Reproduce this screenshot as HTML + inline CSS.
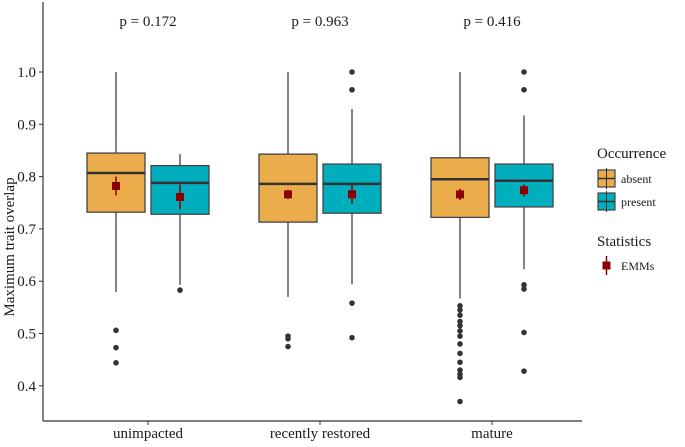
<!DOCTYPE html>
<html><head><meta charset="utf-8"><style>
body{margin:0;background:#fff;}
svg text{font-family:"Liberation Serif",serif;fill:#1a1a1a;}
</style></head><body>
<svg id="chart" width="685" height="442" xmlns="http://www.w3.org/2000/svg"></svg>
<script>
const categories=["unimpacted","recently restored","mature"];
const groups=["absent","present"];
const pvalues=["p = 0.172","p = 0.963","p = 0.416"];
const yTicks=[0.4,0.5,0.6,0.7,0.8,0.9,1.0];
const yTickLabels=["0.4","0.5","0.6","0.7","0.8","0.9","1.0"];
// [whiskerLow,Q1,median,Q3,whiskerHigh] per category per group
const absentStats=[[0.579,0.732,0.807,0.845,1.0],[0.57,0.713,0.786,0.843,1.0],[0.567,0.722,0.795,0.836,1.0]];
const presentStats=[[0.593,0.728,0.788,0.821,0.843],[0.594,0.73,0.786,0.824,0.929],[0.623,0.742,0.792,0.824,0.917]];
const absentOutliers=[[0.506,0.473,0.444],[0.495,0.49,0.475],[0.553,0.545,0.535,0.523,0.515,0.505,0.495,0.48,0.462,0.445,0.43,0.422,0.416,0.37]];
const presentOutliers=[[0.583],[1.0,0.966,0.558,0.492],[1.0,0.966,0.593,0.585,0.502,0.428]];
const absentEmm=[[0.782,0.764,0.80],[0.766,0.757,0.775],[0.766,0.755,0.777]];
const presentEmm=[[0.761,0.737,0.785],[0.766,0.748,0.785],[0.774,0.762,0.785]];
const colors=["#EBAC4B","#00AEBD"];

const svg=document.getElementById('chart');
const NS="http://www.w3.org/2000/svg";
function el(t,a,p){const e=document.createElementNS(NS,t);for(const k in a)e.setAttribute(k,a[k]);(p||svg).appendChild(e);return e;}
const yScale=v=>72+(1.0-v)*523;
const xScale=i=>148+i*172;
const dodge=32,bw=58;

// axes
let ax=el('line',{x1:43,y1:2,x2:43,y2:421,stroke:'#333','stroke-width':1.2});


ax=el('line',{x1:43,y1:421,x2:582,y2:421,stroke:'#333','stroke-width':1.2});


yTicks.forEach((v,i)=>{
  const t=el('line',{x1:39,x2:43,y1:yScale(v),y2:yScale(v),stroke:'#333'});
  
  
  const l=el('text',{x:36,y:yScale(v)+5,'text-anchor':'end','font-size':15});
  l.textContent=yTickLabels[i];
  
  
});
const yt=el('text',{x:14,y:247,'text-anchor':'middle','font-size':15,transform:'rotate(-90 14 247)'});
yt.textContent="Maximum trait overlap";



categories.forEach((c,i)=>{
  const cx=xScale(i);
  const t=el('line',{x1:cx,x2:cx,y1:421,y2:425,stroke:'#333'});
  
  
  const l=el('text',{x:cx,y:438,'text-anchor':'middle','font-size':15});
  l.textContent=c;
  
  
  const p=el('text',{x:cx,y:26,'text-anchor':'middle','font-size':15});
  p.textContent=pvalues[i];
  
  
  [[absentStats,absentOutliers,absentEmm],[presentStats,presentOutliers,presentEmm]].forEach((g,gi)=>{
    const s=g[0][i],x=cx+(gi?dodge:-dodge);
    const w=el('line',{x1:x,x2:x,y1:yScale(s[4]),y2:yScale(s[0]),stroke:'#333','stroke-width':1.2});
    
    
    const b=el('rect',{x:x-bw/2,y:yScale(s[3]),width:bw,height:yScale(s[1])-yScale(s[3]),fill:colors[gi],stroke:'#444','stroke-width':1.3});
    
    
    const m=el('line',{x1:x-bw/2,x2:x+bw/2,y1:yScale(s[2]),y2:yScale(s[2]),stroke:'#333','stroke-width':2.5});
    
    
    g[1][i].forEach(o=>{
      const d=el('circle',{cx:x,cy:yScale(o),r:2.8,fill:'#333'});
      
      
    });
    const e=g[2][i];
    const eb=el('line',{x1:x,x2:x,y1:yScale(e[2]),y2:yScale(e[1]),stroke:'#8B0000','stroke-width':1.5});
    
    
    const em=el('rect',{x:x-4,y:yScale(e[0])-4,width:8,height:8,fill:'#8B0000'});
    
    
  });
});

// legend
function txt(x,y,s,size,name){const t=el('text',{x:x,y:y,'font-size':size});t.textContent=s;return t;}
txt(597,158,"Occurrence",15,'legend-title-occurrence');
groups.forEach((g,i)=>{
  const y=168+i*23;
  const k=el('rect',{x:598,y:y+2,width:17,height:17,fill:colors[i],stroke:'#444','stroke-width':1.2});
  
  
  el('line',{x1:598,x2:615,y1:y+10.5,y2:y+10.5,stroke:'#333','stroke-width':1.5});
  el('line',{x1:606.5,x2:606.5,y1:y,y2:y+21,stroke:'#333','stroke-width':1});
  txt(621,y+15,g,12,'legend-entry-'+g);
});
txt(597,246,"Statistics",15,'legend-title-statistics');
el('line',{x1:606.5,x2:606.5,y1:256,y2:275,stroke:'#8B0000','stroke-width':1.5});
const lk=el('rect',{x:602.5,y:261.5,width:8,height:8,fill:'#8B0000'});


txt(621,270,"EMMs",12,'legend-entry-emms');
</script>
</body></html>
